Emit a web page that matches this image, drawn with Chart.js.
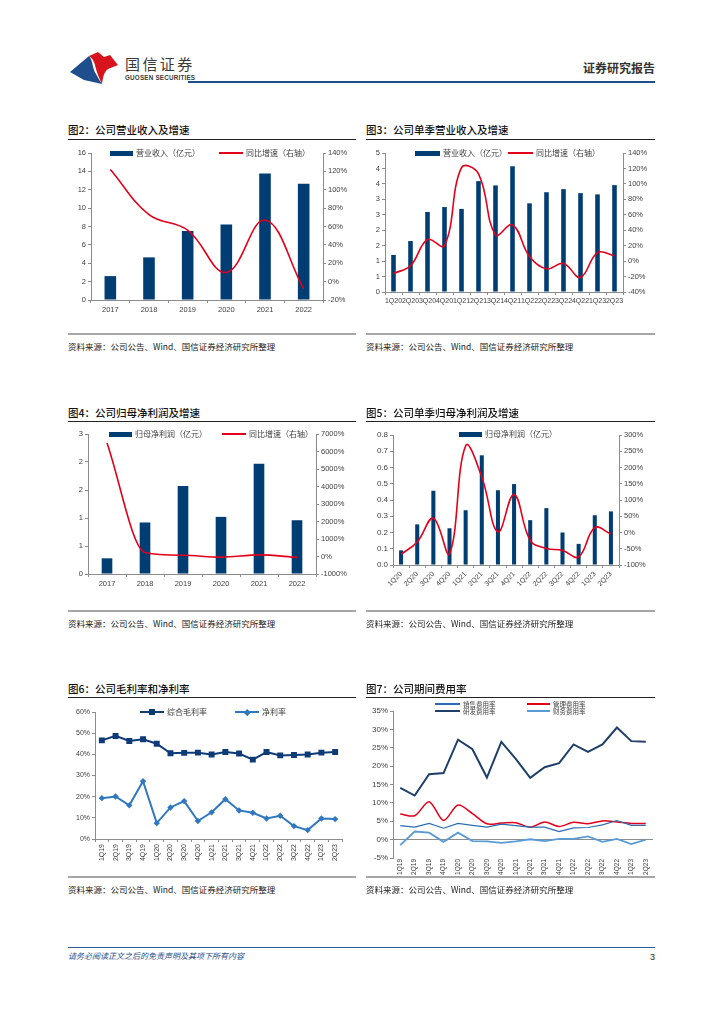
<!DOCTYPE html>
<html>
<head>
<meta charset="utf-8">
<script src="https://cdn.jsdelivr.net/npm/chart.js@4.4.1/dist/chart.umd.min.js"></script>
<style>
  body { margin: 0; background: #fff; }
  #page { position: relative; width: 724px; height: 1024px; overflow: hidden; background: #fff;
          font-family: "Noto Sans CJK SC", "Liberation Sans", sans-serif; color: #222; }
  #page > * { position: absolute; }
  .title { font-size: 10.5px; line-height: 12px; font-weight: 500; color: #111; white-space: nowrap; }
  .rule { height: 1px; background: #222; }
  .srcline { height: 2px; background: #a6a6a6; }
  .src { font-size: 8.5px; line-height: 12px; color: #222; white-space: nowrap; }
  .lg { display: flex; align-items: center; height: 8px; font-size: 8px; line-height: 8px; color: #404040; white-space: nowrap; }
  .lg i { display: inline-block; margin-right: 3px; position: relative; }
  .lg i.bar { width: 23px; height: 5px; background: #003d73; }
  .lg i.ln { width: 24px; height: 1.6px; }
  .lg b { position: absolute; left: 50%; top: 50%; }
  .lg b.sq { width: 6px; height: 6px; margin: -3px 0 0 -3px; background: #0d3b78; }
  .lg b.dm { width: 4.5px; height: 4.5px; margin: -2.25px 0 0 -2.25px; background: #2f78c0; transform: rotate(45deg); }
  .lg.sm { font-size: 6.5px; height: 6px; line-height: 6px; }
  canvas { position: absolute; }
</style>
</head>
<body>
<div id="page">
  <!-- header -->
  <svg style="left:68px;top:48px" width="54" height="40" viewBox="0 0 54 40">
    <path d="M2 24 L21 8 C25 12 24 20 28 26 C30 30 32 33 34 36 L16 32 Z" fill="#1f4e8c"/>
    <path d="M21 8 L30 4 L36 9 L42 7 L50 17 L40 21 C36 24 35 29 34 36 C31 30 28 22 27 17 C26 13 24 10 21 8 Z" fill="#d7131d"/>
  </svg>
  <div style="left:125px;top:55px;font-size:15px;line-height:17px;letter-spacing:2.4px;color:#3a3a3a;">国信证券</div>
  <div style="left:125px;top:74px;font-family:'Liberation Sans',Arial;font-weight:bold;font-size:6.3px;line-height:7px;letter-spacing:0.2px;color:#3a3a3a;">GUOSEN SECURITIES</div>
  <div style="left:188px;top:81px;width:467px;height:2px;background:#1f4e8c;"></div>
  <div style="right:69px;top:61px;font-size:12px;line-height:14px;font-weight:bold;color:#333;">证券研究报告</div>

  <!-- figure 2 -->
  <div class="title" style="left:68px;top:124px">图2：公司营业收入及增速</div>
  <div class="rule" style="left:68px;top:139px;width:288px"></div>
  <canvas id="c2" width="290" height="175" style="left:68px;top:145px"></canvas>
  <div class="lg" style="left:110px;top:149px"><i class="bar"></i>营业收入（亿元）</div>
  <div class="lg" style="left:219px;top:149px"><i class="ln" style="background:#e3001b"></i>同比增速（右轴）</div>
  <div class="srcline" style="left:68px;top:333px;width:288px"></div>
  <div class="src" style="left:68px;top:340px">资料来源：公司公告、Wind、国信证券经济研究所整理</div>

  <!-- figure 3 -->
  <div class="title" style="left:366px;top:124px">图3：公司单季营业收入及增速</div>
  <div class="rule" style="left:366px;top:139px;width:289px"></div>
  <canvas id="c3" width="292" height="165" style="left:366px;top:145px"></canvas>
  <div class="lg" style="left:415px;top:149px"><i class="bar" style="width:25px"></i>营业收入（亿元）</div>
  <div class="lg" style="left:508px;top:149px"><i class="ln" style="background:#e3001b;width:25px"></i>同比增速（右轴）</div>
  <div class="srcline" style="left:366px;top:333px;width:289px"></div>
  <div class="src" style="left:366px;top:340px">资料来源：公司公告、Wind、国信证券经济研究所整理</div>

  <!-- figure 4 -->
  <div class="title" style="left:68px;top:407px">图4：公司归母净利润及增速</div>
  <div class="rule" style="left:68px;top:421px;width:288px"></div>
  <canvas id="c4" width="290" height="165" style="left:68px;top:426px"></canvas>
  <div class="lg" style="left:109px;top:430px"><i class="bar"></i>归母净利润（亿元）</div>
  <div class="lg" style="left:222px;top:430px"><i class="ln" style="background:#e3001b"></i>同比增速（右轴）</div>
  <div class="srcline" style="left:68px;top:610px;width:288px"></div>
  <div class="src" style="left:68px;top:617px">资料来源：公司公告、Wind、国信证券经济研究所整理</div>

  <!-- figure 5 -->
  <div class="title" style="left:366px;top:407px">图5：公司单季归母净利润及增速</div>
  <div class="rule" style="left:366px;top:421px;width:289px"></div>
  <canvas id="c5" width="292" height="170" style="left:366px;top:427px"></canvas>
  <div class="lg" style="left:459px;top:430px"><i class="bar"></i>归母净利润（亿元）</div>
  <div class="srcline" style="left:366px;top:610px;width:289px"></div>
  <div class="src" style="left:366px;top:617px">资料来源：公司公告、Wind、国信证券经济研究所整理</div>

  <!-- figure 6 -->
  <div class="title" style="left:68px;top:683px">图6：公司毛利率和净利率</div>
  <div class="rule" style="left:68px;top:697px;width:288px"></div>
  <canvas id="c6" width="290" height="170" style="left:68px;top:704px"></canvas>
  <div class="lg" style="left:140px;top:708px"><i class="ln" style="background:#0d3b78;height:2px"><b class="sq"></b></i>综合毛利率</div>
  <div class="lg" style="left:235px;top:708px"><i class="ln" style="background:#2f78c0;height:2px"><b class="dm"></b></i>净利率</div>
  <div class="srcline" style="left:68px;top:876px;width:288px"></div>
  <div class="src" style="left:68px;top:883px">资料来源：公司公告、Wind、国信证券经济研究所整理</div>

  <!-- figure 7 -->
  <div class="title" style="left:366px;top:683px">图7：公司期间费用率</div>
  <div class="rule" style="left:366px;top:697px;width:289px"></div>
  <canvas id="c7" width="292" height="172" style="left:366px;top:703px"></canvas>
  <div class="lg sm" style="left:435px;top:701px"><i class="ln" style="background:#2a6db0;height:1.2px;width:25px"></i>销售费用率</div>
  <div class="lg sm" style="left:527px;top:701px"><i class="ln" style="background:#e3001b;height:1.2px;width:23px"></i>管理费用率</div>
  <div class="lg sm" style="left:435px;top:708px"><i class="ln" style="background:#1f3f68;height:2px;width:25px"></i>研发费用率</div>
  <div class="lg sm" style="left:527px;top:708px"><i class="ln" style="background:#5a9bd5;height:2px;width:23px"></i>财务费用率</div>
  <div class="srcline" style="left:366px;top:876px;width:289px"></div>
  <div class="src" style="left:366px;top:883px">资料来源：公司公告、Wind、国信证券经济研究所整理</div>

  <!-- footer -->
  <div style="left:68px;top:947px;width:587px;height:1px;background:#2f5f9a;"></div>
  <div style="left:68px;top:951px;font-size:8px;line-height:10px;font-style:italic;color:#1f4e8c;">请务必阅读正文之后的免责声明及其项下所有内容</div>
  <div style="right:69px;top:952px;font-family:'Liberation Sans',Arial;font-size:9px;line-height:11px;color:#222;">3</div>
</div>

<script>
// categories
var years = ['2017', '2018', '2019', '2020', '2021', '2022']
var quarters20 = ['1Q20', '2Q20', '3Q20', '4Q20', '1Q21', '2Q21', '3Q21', '4Q21',
                  '1Q22', '2Q22', '3Q22', '4Q22', '1Q23', '2Q23']
var quarters19 = ['1Q19', '2Q19', '3Q19', '4Q19'].concat(quarters20)

// fig 2: annual revenue (亿元) and yoy (%)
var revenueYear = [2.6, 4.64, 7.5, 8.22, 13.77, 12.64]
var revenueYearYoy = [122, 73, 56, 10, 67, -8]

// fig 3: quarterly revenue and yoy
var revenueQtr = [1.20, 1.65, 2.59, 2.75, 2.69, 3.59, 3.45, 4.07, 2.87, 3.23, 3.33, 3.20, 3.16, 3.46]
var revenueQtrYoy = [-16, -6, 28, 20, 121, 113, 34, 47, 6, -10, -3, -21, 11, 7]

// fig 4: annual net profit attributable to parent and yoy
var profitYear = [0.28, 0.92, 1.57, 1.02, 1.97, 0.96]
var profitYearYoy = [6480, 230, 71, -35, 93, -51]

// fig 5: quarterly net profit and yoy
var profitQtr = [0.09, 0.25, 0.457, 0.226, 0.337, 0.675, 0.46, 0.498, 0.276, 0.35, 0.20, 0.13, 0.306, 0.33]
var profitQtrYoy = [-67, -29, 44, -65, 267, 171, 2, 117, -24, -49, -55, -75, 15, -5]

// fig 6: margins (%)
var grossMargin = [46.6, 48.7, 46.3, 47.1, 45.0, 40.5, 40.7, 40.8, 39.9, 41.1, 40.4, 37.5, 41.1, 39.5, 39.7, 39.9, 40.8, 41.1]
var netMargin = [19.3, 20.1, 15.9, 27.3, 7.5, 14.9, 17.9, 8.5, 12.6, 18.8, 13.5, 12.4, 9.7, 11.0, 6.1, 4.2, 9.7, 9.4]

// fig 7: expense ratios (%)
var salesRate = [3.8, 3.4, 4.4, 3.1, 4.4, 3.9, 3.4, 4.2, 3.8, 3.4, 3.4, 2.2, 3.2, 3.3, 4.0, 5.2, 3.9, 3.9]
var adminRate = [7.0, 6.5, 10.3, 5.2, 9.4, 7.1, 4.3, 4.5, 4.6, 3.4, 4.8, 3.6, 4.7, 4.3, 5.1, 4.8, 4.4, 4.4]
var rdRate = [14.1, 12.0, 17.8, 18.1, 27.2, 24.6, 16.9, 26.6, 22.0, 16.8, 19.7, 20.8, 25.9, 23.9, 25.9, 30.5, 26.8, 26.6]
var finRate = [-1.5, 2.2, 1.9, -0.6, 1.9, -0.4, -0.5, -0.9, -0.5, 0.1, -0.4, 0.2, 0.2, 0.9, -0.6, 0.2, -1.2, 0.0]

var NAVY = '#003d73'
var RED = '#e3001b'
var AXIS = '#8c8c8c'
var TICK_FONT = { family: "'Liberation Sans', Arial, sans-serif", size: 7.5 }

Chart.defaults.animation = false
Chart.defaults.responsive = false
Chart.defaults.maintainAspectRatio = false
Chart.defaults.plugins.legend.display = false
Chart.defaults.plugins.tooltip.enabled = false

function yAxis(position, width, min, max, step, fmt, size) {
    return {
        position: position,
        min: min,
        max: max,
        ticks: { stepSize: step, callback: fmt, color: '#404040', padding: 2,
                 font: Object.assign({}, TICK_FONT, { size: size || 7.5 }) },
        grid: { drawOnChartArea: false, tickLength: 3, color: AXIS },
        border: { display: true, color: AXIS },
        afterFit: function(s) { s.width = width }
    }
}

function xAxis(height, rotation, size) {
    return {
        offset: true,
        ticks: { autoSkip: false, minRotation: rotation || 0, maxRotation: rotation || 0,
                 color: '#404040', padding: 2,
                 font: Object.assign({}, TICK_FONT, { size: size || 7.5 }) },
        grid: { drawOnChartArea: false, offset: true, tickLength: 3, color: AXIS },
        border: { display: true, color: AXIS },
        afterFit: function(s) { s.height = height }
    }
}

function pct(v) { return v + '%' }
function half(v) { return Math.round(v) }

function barLine(id, labels, bars, line, barPct, opts, mode) {
    return new Chart(document.getElementById(id), {
        type: 'bar',
        data: {
            labels: labels,
            datasets: [
                { type: 'line', data: line, yAxisID: 'y1', borderColor: RED, borderWidth: 1.6,
                  pointRadius: 0, tension: 0.4, cubicInterpolationMode: mode || 'default', order: 0 },
                { data: bars, yAxisID: 'y', backgroundColor: NAVY, barPercentage: barPct,
                  categoryPercentage: 1, order: 1 }
            ]
        },
        options: {
            layout: { padding: { top: 8 } },
            scales: opts
        }
    })
}

barLine('c2', years, revenueYear, revenueYearYoy, 0.3, {
    x: xAxis(20),
    y: yAxis('left', 23, 0, 16, 2, function(v) { return v }),
    y1: yAxis('right', 35, -20, 140, 20, pct)
})

barLine('c3', quarters20, revenueQtr, revenueQtrYoy, 0.27, {
    x: xAxis(18, 0, 7),
    y: yAxis('left', 19, 0, 4.5, 0.5, half),
    y1: yAxis('right', 35, -40, 140, 20, pct)
})

barLine('c4', years, profitYear, profitYearYoy, 0.28, {
    x: xAxis(17),
    y: yAxis('left', 20, 0, 2.5, 0.5, half),
    y1: yAxis('right', 42, -1000, 7000, 1000, pct)
}, 'monotone')

barLine('c5', quarters20, profitQtr, profitQtrYoy, 0.25, {
    x: xAxis(32, 45, 7),
    y: yAxis('left', 27, 0, 0.8, 0.1, function(v) { return v.toFixed(1) }, 8),
    y1: yAxis('right', 39, -100, 300, 50, pct, 7.5)
})

new Chart(document.getElementById('c6'), {
    type: 'line',
    data: {
        labels: quarters19,
        datasets: [
            { data: grossMargin, borderColor: '#0d3b78', backgroundColor: '#0d3b78', borderWidth: 2,
              pointStyle: 'rect', pointRadius: 4.2, pointBorderWidth: 0, tension: 0 },
            { data: netMargin, borderColor: '#2f78c0', backgroundColor: '#2f78c0', borderWidth: 2,
              pointStyle: 'rectRot', pointRadius: 3.2, pointBorderWidth: 0, tension: 0 }
        ]
    },
    options: {
        layout: { padding: { top: 8, right: 16 } },
        scales: {
            x: xAxis(35, 90, 7),
            y: yAxis('left', 27, 0, 60, 10, pct, 7)
        }
    }
})

// fig 7: same x axis as fig 6 but without the axis line (the 0% line is drawn by the y grid)
var x7 = xAxis(17, 90, 6.5)
x7.ticks.padding = 1
x7.border = { display: false }
x7.grid = { drawOnChartArea: false, drawTicks: true, tickLength: 0, color: 'rgba(0,0,0,0)' }
var y7 = yAxis('left', 27, -5, 35, 5, pct, 8)
y7.grid = {
    drawOnChartArea: true, tickLength: 3, tickColor: AXIS,
    color: function(c) { return c.tick && c.tick.value === 0 ? AXIS : 'rgba(0,0,0,0)' }
}

new Chart(document.getElementById('c7'), {
    type: 'line',
    data: {
        labels: quarters19,
        datasets: [
            { data: salesRate, borderColor: '#2a6db0', borderWidth: 1.2, pointRadius: 0, tension: 0 },
            { data: adminRate, borderColor: RED, borderWidth: 1.5, pointRadius: 0, tension: 0.3 },
            { data: rdRate, borderColor: '#1f3f68', borderWidth: 2, pointRadius: 0, tension: 0 },
            { data: finRate, borderColor: '#5a9bd5', borderWidth: 1.8, pointRadius: 0, tension: 0 }
        ]
    },
    options: {
        layout: { padding: { top: 8, right: 5 } },
        scales: { x: x7, y: y7 }
    }
})
</script>
</body>
</html>
